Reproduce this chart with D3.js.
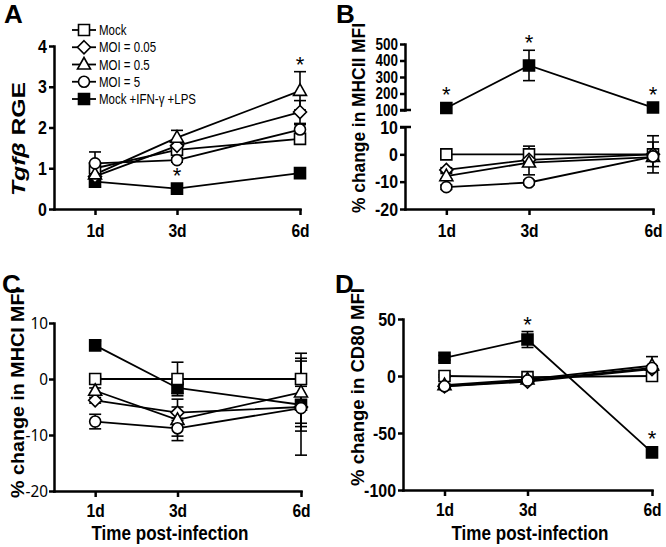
<!DOCTYPE html>
<html><head><meta charset="utf-8">
<script src="https://cdn.jsdelivr.net/npm/d3@7"></script>
<style>
body{margin:0;background:#fff}
svg{display:block}
.nar{font-family:"Liberation Sans Narrow","Arial Narrow","Liberation Sans",Arial,sans-serif}
</style></head><body>
<svg id="c" width="666" height="547"></svg>
<script>
// ---------- data ----------
const days = [1, 3, 6];
const dayLabels = ["1d", "3d", "6d"];
const seriesNames = ["Mock", "MOI = 0.05", "MOI = 0.5", "MOI = 5", "Mock +IFN-\u03b3 +LPS"];
const seriesSymbols = ["square", "diamond", "triangle", "circle", "square"];
const seriesFilled = [false, false, false, false, true];

const tgfTicks = [0, 1, 2, 3, 4];
const tgfMean = [[1.0, 1.45, 1.72], [0.8, 1.55, 2.38], [0.85, 1.75, 2.9], [1.12, 1.2, 1.95], [0.67, 0.5, 0.88]];
const tgfErr  = [[0.12, 0.1, 0.12], [0.06, 0.12, 0.28], [0.06, 0.18, 0.47], [0.28, 0.05, 0.12], [0.05, 0.04, 0.05]];
const tgfStars = [{day: 3, series: 4}, {day: 6, series: 2}];

const mhc2TicksUpper = [100, 200, 300, 400, 500];
const mhc2TicksLower = [-20, -10, 0, 10];
const mhc2Mean = [[0, 0, 0], [-5.7, -2, 0], [-8, -3, -1], [-12, -10.3, -0.8], [112, 370, 115]];
const mhc2Err  = [[0, 3, 6.8], [0.8, 1, 4.5], [1, 4.5, 1], [0.8, 0.8, 1], [0, 92, 0]];
const mhc2Stars = [{day: 1, series: 4}, {day: 3, series: 4}, {day: 6, series: 4}];

const mhc1Ticks = [-20, -10, 0, 10];
const mhc1Mean = [[0, 0, 0], [-3.8, -6, -5], [-2.1, -7.3, -2.4], [-7.6, -8.8, -5.2], [6, -1.6, -4.6]];
const mhc1Err  = [[0.3, 3, 4.6], [0.5, 1, 4.3], [0.5, 3.7, 6.1], [1.3, 1.4, 8.4], [0.8, 1, 3.3]];
const mhc1Stars = [];

const cd80Ticks = [-100, -50, 0, 50];
const cd80Mean = [[0, -1, 0], [-9, -5, 6], [-8, -3, 9], [-9, -4, 7], [16, 32, -67]];
const cd80Err  = [[1, 1, 1], [1, 1, 2], [1, 1, 8], [1, 1, 2], [2, 7, 2]];
const cd80Stars = [{day: 3, series: 4}, {day: 6, series: 4}];

// ---------- drawing ----------
const svg = d3.select("#c");
const AX = 2.5;

function condense(sel, f) {
  sel.each(function () {
    const L = this.getComputedTextLength();
    d3.select(this).attr("textLength", L * f).attr("lengthAdjust", "spacingAndGlyphs");
  });
}
function fitLength(sel, L) {
  sel.attr("textLength", L).attr("lengthAdjust", "spacingAndGlyphs");
}

function symPath(kind) {
  if (kind === "square") return "M-5.5,-5.5h11v11h-11z";
  if (kind === "diamond") return "M0,-6.5L6.5,0L0,6.5L-6.5,0Z";
  if (kind === "triangle") return "M0,-7L6.5,4.5L-6.5,4.5Z";
  return d3.arc()({innerRadius: 0, outerRadius: 5.5, startAngle: 0, endAngle: 2 * Math.PI});
}

function styleAxis(sel, fontSize, weight, family, factor) {
  sel.attr("font-family", null);
  sel.select(".domain").attr("stroke-width", AX).attr("stroke-linecap", "square");
  sel.selectAll(".tick line").attr("stroke-width", AX);
  const t = sel.selectAll(".tick text").attr("fill", "#000")
    .attr("font-size", fontSize).attr("font-weight", weight);
  if (family) t.attr("font-family", family); else t.attr("class", "nar");
  if (factor) condense(t, factor);
}

function drawPanel(cfg) {
  const g = svg.append("g");
  const x = d3.scaleLinear().domain([0, 6]).range([cfg.x0, cfg.x6]);
  const yOf = cfg.yOf;

  cfg.yAxes.forEach(a => {
    const ax = g.append("g").attr("transform", `translate(${cfg.x0},0)`)
      .call(d3.axisLeft(a.scale).tickValues(a.ticks).tickFormat(d => String(d))
        .tickSize(5).tickSizeOuter(0).tickPadding(cfg.yPad != null ? cfg.yPad : 2));
    styleAxis(ax, a.font || cfg.yFont || 19, cfg.yWeight || "bold", cfg.yFamily, cfg.yFactor || 0.84);
  });
  (cfg.breaks || []).forEach(yv => {
    g.append("line").attr("x1", cfg.x0 - 5).attr("x2", cfg.x0 + 6)
      .attr("y1", yv).attr("y2", yv).attr("stroke", "#000").attr("stroke-width", AX);
  });
  const xa = g.append("g").attr("transform", `translate(0,${cfg.yBase})`)
    .call(d3.axisBottom(x).tickValues(days).tickFormat((d, i) => dayLabels[i])
      .tickSize(6).tickSizeOuter(0).tickPadding(cfg.xPad || 9));
  styleAxis(xa, 19, "bold", null, 0.82);

  const n = cfg.mean.length;
  for (let s = 0; s < n; s++) {
    days.forEach((d, i) => {
      const m = cfg.mean[s][i], e = cfg.err[s][i];
      if (!e) return;
      const y1 = yOf(m + e, m), y2 = yOf(m - e, m), xx = x(d);
      g.append("line").attr("x1", xx).attr("x2", xx).attr("y1", y1).attr("y2", y2)
        .attr("stroke", "#000").attr("stroke-width", 1.6);
      [y1, y2].forEach(yy => g.append("line").attr("x1", xx - 6).attr("x2", xx + 6)
        .attr("y1", yy).attr("y2", yy).attr("stroke", "#000").attr("stroke-width", 1.6));
    });
  }
  const line = d3.line().x(p => x(p[0])).y(p => yOf(p[1], p[1]));
  for (let s = 0; s < n; s++) {
    g.append("path").attr("d", line(days.map((d, i) => [d, cfg.mean[s][i]])))
      .attr("fill", "none").attr("stroke", "#000").attr("stroke-width", 1.8);
  }
  const order = [4, 0, 1, 2, 3];
  order.forEach(s => {
    days.forEach((d, i) => {
      g.append("path").attr("d", symPath(seriesSymbols[s]))
        .attr("transform", `translate(${x(d)},${yOf(cfg.mean[s][i], cfg.mean[s][i])})`)
        .attr("fill", seriesFilled[s] ? "#000" : "#fff").attr("stroke", "#000").attr("stroke-width", 1.6);
    });
  });
  cfg.stars.forEach(st => {
    const i = days.indexOf(st.day), m = cfg.mean[st.series][i], e = cfg.err[st.series][i];
    const top = Math.min(yOf(m + e, m), yOf(m, m) - 6) - 11;
    g.append("text").attr("x", x(st.day)).attr("y", top + 11).attr("text-anchor", "middle")
      .attr("font-family", "Liberation Sans, Arial, sans-serif").attr("font-size", 22).text("*");
  });
  const yt = g.append("text").attr("class", "nar").attr("font-weight", "bold").attr("font-size", 19)
    .attr("text-anchor", "middle")
    .attr("transform", `translate(${cfg.titleX},${cfg.titleY}) rotate(-90)`);
  if (cfg.titleItalic) {
    yt.append("tspan").attr("font-style", "italic").text(cfg.titleItalic);
    yt.append("tspan").text(cfg.title);
  } else yt.text(cfg.title);
  fitLength(yt, cfg.titleLen);
  if (cfg.xTitle) {
    const xt = g.append("text").attr("class", "nar").attr("font-weight", "bold").attr("font-size", 20)
      .attr("text-anchor", "middle").attr("x", cfg.xTitleX).attr("y", 540).text(cfg.xTitle);
    fitLength(xt, 157);
  }
  g.append("text").attr("x", cfg.letterX).attr("y", cfg.letterY)
    .attr("font-family", "Liberation Sans, Arial, sans-serif").attr("font-weight", "bold")
    .attr("font-size", 26).text(cfg.letter);
  return {g, x};
}

// Panel A
const yA = d3.scaleLinear().domain([0, 4]).range([209, 46]);
const pA = drawPanel({x0: 54, x6: 300, yBase: 209, yOf: v => yA(v),
  yAxes: [{scale: yA, ticks: tgfTicks}], mean: tgfMean, err: tgfErr, stars: tgfStars,
  titleItalic: "Tgf\u03b2", title: " RGE", titleX: 25, titleY: 139, titleLen: 114,
  letter: "A", letterX: 4, letterY: 23});

// Legend
const legY = d3.scalePoint().domain(seriesNames).range([30, 99]);
seriesNames.forEach((nm, s) => {
  const lg = pA.g.append("g").attr("transform", `translate(0,${legY(nm)})`);
  lg.append("line").attr("x1", 72).attr("x2", 96).attr("stroke", "#000").attr("stroke-width", 1.8);
  lg.append("path").attr("d", symPath(seriesSymbols[s])).attr("transform", "translate(84,0)")
    .attr("fill", seriesFilled[s] ? "#000" : "#fff").attr("stroke", "#000").attr("stroke-width", 1.6);
  const t = lg.append("text").attr("class", "nar").attr("x", 99).attr("y", 5).attr("font-size", 14).text(nm);
  condense(t, 0.82);
});

// Panel B
const yBu = d3.scaleLinear().domain([100, 500]).range([110, 44]);
const yBl = d3.scaleLinear().domain([-20, 10]).range([209, 127]);
drawPanel({x0: 405, x6: 653, yBase: 209, yOf: (v, ref) => (ref >= 50 ? yBu(v) : yBl(v)),
  yAxes: [{scale: yBu, ticks: mhc2TicksUpper, font: 16}, {scale: yBl, ticks: mhc2TicksLower}],
  breaks: [110, 127], mean: mhc2Mean, err: mhc2Err, stars: mhc2Stars,
  title: "% change in MHCII MFI", titleX: 365, titleY: 118, titleLen: 190,
  letter: "B", letterX: 336, letterY: 23});

// Panel C
const yC = d3.scaleLinear().domain([-20, 10]).range([491, 323]);
drawPanel({x0: 54, x6: 301, yBase: 491, yOf: v => yC(v), xPad: 7,
  yAxes: [{scale: yC, ticks: mhc1Ticks}], yFont: 17, yWeight: "normal", yPad: 1, yFactor: 0.9,
  yFamily: "Noto Sans, Liberation Sans, sans-serif",
  mean: mhc1Mean, err: mhc1Err, stars: mhc1Stars,
  title: "% change in MHCI MFI", titleX: 24, titleY: 393, titleLen: 210,
  letter: "C", letterX: 2, letterY: 293,
  xTitle: "Time post-infection", xTitleX: 170});

// Panel D
const yD = d3.scaleLinear().domain([-100, 50]).range([490, 319]);
drawPanel({x0: 403, x6: 652, yBase: 490, yOf: v => yD(v), xPad: 7,
  yAxes: [{scale: yD, ticks: cd80Ticks}], mean: cd80Mean, err: cd80Err, stars: cd80Stars,
  title: "% change in CD80 MFI", titleX: 364, titleY: 387, titleLen: 198,
  letter: "D", letterX: 335, letterY: 293,
  xTitle: "Time post-infection", xTitleX: 530});
</script></body></html>
